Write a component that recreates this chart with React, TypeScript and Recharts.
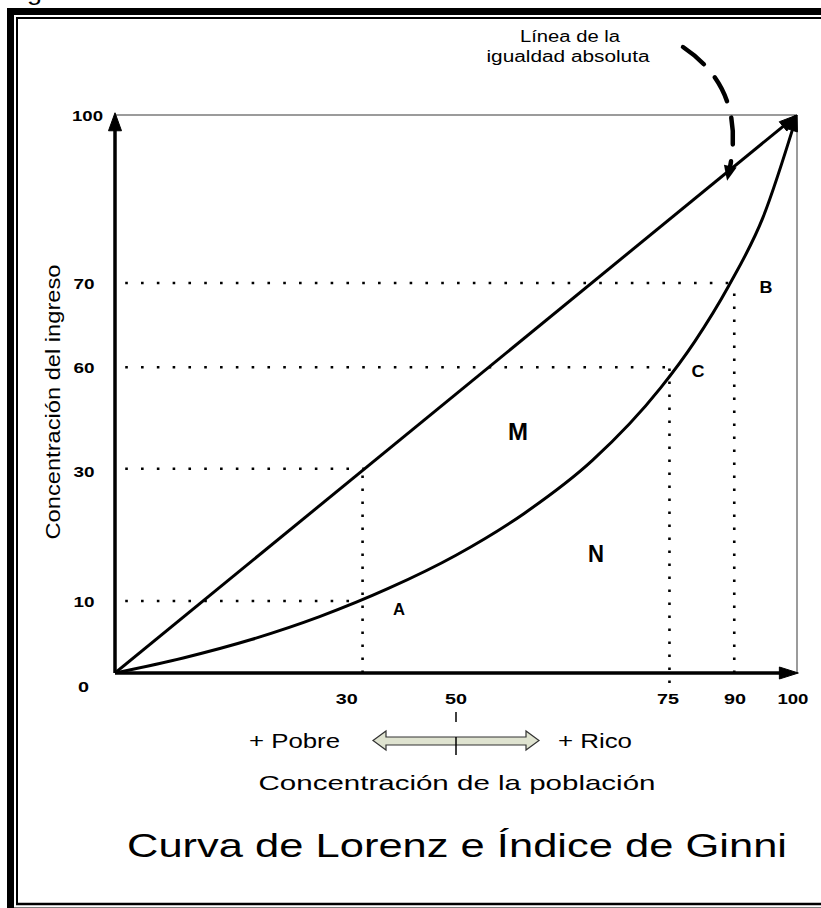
import React from 'react';
import { ComposedChart, Line, XAxis, YAxis, ReferenceLine } from 'recharts';

const FONT = '"Liberation Sans", Arial, sans-serif';

// Line of absolute equality
const equalityLine = [
  { x: 0, y: 0 },
  { x: 100, y: 100 },
];

// Lorenz curve (population share vs income share, as drawn)
const lorenzX = [0, 10, 20, 30, 40, 50, 60, 70, 80, 85, 90, 95, 100];
const lorenzY = [0, 2.7, 6.0, 10.1, 15.1, 21.1, 28.6, 38.1, 51.1, 59.4, 69.4, 81.6, 100];
const lorenzCurve = lorenzX.map((x, i) => ({ x, y: lorenzY[i] }));

// Tick positions (as drawn) and their labels
const xTickAt = [34.0, 50.0, 81.1, 90.9, 99.4];
const xTickLabels = ['30', '50', '75', '90', '100'];
const yTickAt = [0, 12.9, 36.2, 54.7, 69.8, 100];
const yTickLabels = ['0', '10', '30', '60', '70', '100'];

// Dotted guide lines
const incomeGuideY = [12.9, 36.6, 54.8, 69.9];
const incomeGuideEnd = [35, 36.6, 81.3, 90.8];
const populationGuideX = [36.3, 81.3, 90.8];
const populationGuideFrom = [0, -1.8, 0];
const populationGuideTo = [36.6, 54.8, 69.9];

const findIdx = (arr: number[], v: number) => arr.findIndex((a) => Math.abs(a - Number(v)) < 1e-6);

const XTick = (props: any) => {
  const i = findIdx(xTickAt, props.payload?.value);
  const label = xTickLabels[i] ?? '';
  const w = label.length === 3 ? 31 : 22;
  return (
    <text x={props.x} y={704} textAnchor="middle" fontFamily={FONT} fontWeight="bold" fontSize={15}
      textLength={w} lengthAdjust="spacingAndGlyphs" fill="#000">{label}</text>
  );
};

const YTick = (props: any) => {
  const i = findIdx(yTickAt, props.payload?.value);
  const label = yTickLabels[i] ?? '';
  const isZero = label === '0';
  const w = label.length === 3 ? 31 : label.length === 2 ? 21 : 11;
  const cx = label.length === 3 ? 87.5 : isZero ? 83.5 : 84;
  const y = isZero ? props.y + 19 : props.y + 5.5;
  return (
    <text x={cx} y={y} textAnchor="middle" fontFamily={FONT} fontWeight="bold" fontSize={15}
      textLength={w} lengthAdjust="spacingAndGlyphs" fill="#000">{label}</text>
  );
};

const arrowShape = (len: number, half: number, drawLine: boolean, width: number) => (p: any) => {
  const x1 = Number(p.x1), y1 = Number(p.y1), x2 = Number(p.x2), y2 = Number(p.y2);
  const dx = x2 - x1, dy = y2 - y1;
  const d = Math.sqrt(dx * dx + dy * dy) || 1;
  const ux = dx / d, uy = dy / d;
  const nx = -uy, ny = ux;
  const bx = x2 - ux * len, by = y2 - uy * len;
  const pts = `${x2},${y2} ${bx + nx * half},${by + ny * half} ${bx - nx * half},${by - ny * half}`;
  return (
    <g>
      {drawLine && <line x1={x1} y1={y1} x2={bx + ux * 2} y2={by + uy * 2} stroke="#000" strokeWidth={width} />}
      <polygon points={pts} fill="#000" stroke="#000" strokeWidth={1} strokeLinejoin="miter" />
    </g>
  );
};

const T = ({ x, y, w, size, bold, anchor = 'middle', children, rot }: any) => (
  <text x={x} y={y} fontSize={size} fontWeight={bold ? 'bold' : 'normal'} textAnchor={anchor}
    textLength={w} lengthAdjust="spacingAndGlyphs" fontFamily={FONT} fill="#000"
    transform={rot ? `rotate(${rot} ${x} ${y})` : undefined}>{children}</text>
);

export default function App() {
  const W = 821, H = 908;
  // curved dashed pointer arrow head
  const ex = 729, ey = 172, cxq = 747, cyq = 90;
  const tdx = ex - cxq, tdy = ey - cyq;
  const tl = Math.sqrt(tdx * tdx + tdy * tdy);
  const ux = tdx / tl, uy = tdy / tl;
  const tipx = ex + ux * 9, tipy = ey + uy * 9;
  const bx = tipx - ux * 15, by = tipy - uy * 15;
  const nx = -uy, ny = ux;
  const headPts = `${tipx},${tipy} ${bx + nx * 6.5},${by + ny * 6.5} ${bx - nx * 6.5},${by - ny * 6.5}`;

  return (
    <div style={{ position: 'absolute', left: 0, top: 0, width: W, height: H, background: '#fff' }}>
      <ComposedChart width={W} height={H} margin={{ top: 115, right: 24, bottom: 234, left: 114 }}>
        <XAxis type="number" dataKey="x" domain={[0, 100]} ticks={xTickAt} interval={0} height={1}
          axisLine={false} tickLine={false} tick={<XTick />} allowDataOverflow />
        <YAxis type="number" dataKey="y" domain={[0, 100]} ticks={yTickAt} interval={0} width={1}
          axisLine={false} tickLine={false} tick={<YTick />} allowDataOverflow />

        {/* frame of the unit square */}
        <ReferenceLine y={100} stroke="#7a7a7a" strokeWidth={1.5} ifOverflow="visible" />
        <ReferenceLine x={100} stroke="#7a7a7a" strokeWidth={1.5} ifOverflow="visible" />

        {/* dotted guides */}
        {incomeGuideY.map((y, i) => (
          <ReferenceLine key={'h' + i} segment={[{ x: 1.5, y }, { x: incomeGuideEnd[i], y }]}
            stroke="#000" strokeWidth={2.6} strokeDasharray="2.6 13.2" ifOverflow="visible" />
        ))}
        {populationGuideX.map((x, i) => (
          <ReferenceLine key={'v' + i} segment={[{ x, y: populationGuideFrom[i] }, { x, y: populationGuideTo[i] }]}
            stroke="#000" strokeWidth={2.6} strokeDasharray="2.6 10.4" ifOverflow="visible" />
        ))}

        {/* axes with arrows */}
        <ReferenceLine segment={[{ x: 0, y: 0 }, { x: 100.2, y: 0 }]} ifOverflow="visible"
          shape={arrowShape(19, 6, true, 3.5)} />
        <ReferenceLine segment={[{ x: 0, y: 0 }, { x: 0, y: 100.4 }]} ifOverflow="visible"
          shape={arrowShape(18, 6.5, true, 3.5)} />

        <Line data={equalityLine} dataKey="y" type="linear" stroke="#000" strokeWidth={3}
          dot={false} activeDot={false} isAnimationActive={false} />
        <Line data={lorenzCurve} dataKey="y" type="monotone" stroke="#000" strokeWidth={3}
          dot={false} activeDot={false} isAnimationActive={false} />

        {/* arrow heads at the top-right end */}
        <ReferenceLine segment={[{ x: 97, y: 97 }, { x: 100, y: 100 }]} ifOverflow="visible"
          shape={arrowShape(18, 6, false, 3)} />
        <ReferenceLine segment={[{ x: 99.3, y: 97.3 }, { x: 100, y: 100 }]} ifOverflow="visible"
          shape={arrowShape(16, 5.5, false, 3)} />
      </ComposedChart>

      <svg width={W} height={H} style={{ position: 'absolute', left: 0, top: 0, pointerEvents: 'none' }}>
        {/* page frame */}
        <path d="M10.5 915 V11.5 H830" fill="none" stroke="#000" strokeWidth={7} />
        <path d="M7 911 H830" fill="none" stroke="#000" strokeWidth={7} />
        <path d="M17 904 V18 H830" fill="none" stroke="#000" strokeWidth={2} />
        <path d="M16 904 H830" fill="none" stroke="#000" strokeWidth={2.5} />
        <T x={27} y={0} w={15} size={22} anchor="start">g</T>

        {/* annotation: line of equality */}
        <T x={570} y={42} w={100} size={16}>Línea de la</T>
        <T x={568} y={62} w={163} size={16}>igualdad absoluta</T>
        <path d={`M683 47 Q${cxq} ${cyq} ${ex} ${ey}`} fill="none" stroke="#000" strokeWidth={4.5}
          strokeDasharray="27 17" strokeLinecap="round" />
        <polygon points={headPts} fill="#000" />

        {/* region / point labels */}
        <T x={518} y={440} w={20} size={23} bold>M</T>
        <T x={596} y={562} w={16} size={23} bold>N</T>
        <T x={399} y={615} w={12} size={16} bold>A</T>
        <T x={766} y={293} w={13} size={16} bold>B</T>
        <T x={698} y={377} w={13} size={16} bold>C</T>

        {/* axis titles */}
        <T x={60} y={402} w={275} size={21} rot={-90}>Concentración del ingreso</T>
        <T x={249} y={748} w={91} size={21} anchor="start">+ Pobre</T>
        <T x={558} y={748} w={74} size={21} anchor="start">+ Rico</T>
        <polygon points="373,740.5 386,731 386,737 526,737 526,731 539,740.5 526,750 526,745 386,745 386,750"
          fill="#dfe3d0" stroke="#333" strokeWidth={1.2} />
        <line x1={456} y1={712} x2={456} y2={722} stroke="#000" strokeWidth={1.5} />
        <line x1={456} y1={737} x2={456} y2={755} stroke="#000" strokeWidth={1.5} />
        <T x={457} y={790} w={397} size={21}>Concentración de la población</T>

        {/* title */}
        <T x={127} y={857} w={660} size={33} anchor="start">Curva de Lorenz e Índice de Ginni</T>
      </svg>
    </div>
  );
}
